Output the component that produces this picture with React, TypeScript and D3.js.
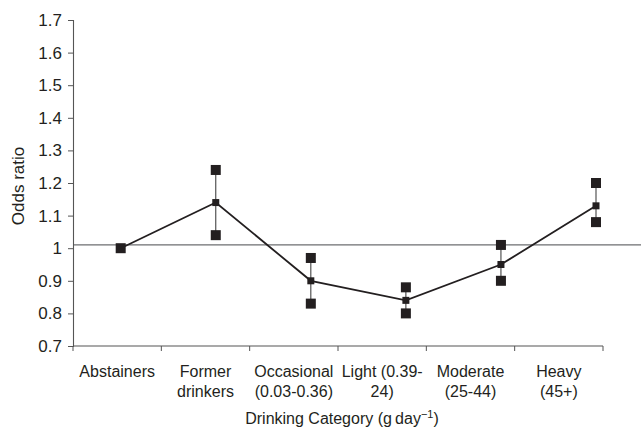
import React, { useEffect, useRef } from "react";
import * as d3 from "d3";

// categories and estimates
const categories = ["Abstainers", "Former", "Occasional", "Light", "Moderate", "Heavy"];
const labelLines = [
  ["Abstainers"],
  ["Former", "drinkers"],
  ["Occasional", "(0.03-0.36)"],
  ["Light (0.39-", "24)"],
  ["Moderate", "(25-44)"],
  ["Heavy", "(45+)"],
];
const oddsRatio = [1.0, 1.14, 0.9, 0.84, 0.95, 1.13];
const lowerCI = [null, 1.04, 0.83, 0.8, 0.9, 1.08];
const upperCI = [null, 1.24, 0.97, 0.88, 1.01, 1.2];
const yTicks = [0.7, 0.8, 0.9, 1, 1.1, 1.2, 1.3, 1.4, 1.5, 1.6, 1.7];
const referenceValue = 1.01;

const W = 643;
const H = 429;
const ink = "#231f20";

const App: React.FC = () => {
  const ref = useRef<SVGSVGElement>(null);

  useEffect(() => {
    if (!ref.current) return;
    const svg = d3.select(ref.current);
    svg.selectAll("*").remove();

    const font = "'Liberation Sans', Arial, sans-serif";
    const left = 73;
    const axisRight = 603;
    const top = 20;
    const bottom = 346;

    const y = d3.scaleLinear().domain([0.7, 1.7]).range([bottom, top]);
    // category axis (labels and ticks)
    const xBand = d3.scaleBand().domain(categories).range([left, axisRight]);
    // the plotted series sits on its own, wider spaced axis
    const xPoint = d3.scalePoint().domain(categories).range([120.7, 596]);

    // reference line
    svg.append("line")
      .attr("x1", left).attr("x2", 641)
      .attr("y1", y(referenceValue)).attr("y2", y(referenceValue))
      .attr("stroke", "#6d6e70").attr("stroke-width", 1.2);

    // y axis
    const yAxis = svg.append("g")
      .attr("transform", `translate(${left},0)`)
      .call(d3.axisLeft(y).tickValues(yTicks).tickSize(5).tickPadding(6)
        .tickFormat((d) => d3.format("")(+d)));
    yAxis.select(".domain").attr("stroke", "#555").attr("stroke-width", 1.1);
    yAxis.selectAll(".tick line").attr("stroke", "#555");
    yAxis.selectAll("text")
      .attr("font-family", font).attr("font-size", 17).attr("fill", ink);

    // x axis
    const xAxis = svg.append("g")
      .attr("transform", `translate(0,${bottom})`);
    xAxis.append("line")
      .attr("x1", left).attr("x2", axisRight)
      .attr("stroke", "#555").attr("stroke-width", 1.1);
    const tickXs = [left, ...categories.map((c) => (xBand(c) as number) + xBand.bandwidth())];
    xAxis.selectAll(".xt")
      .data(tickXs)
      .enter()
      .append("line")
      .attr("class", "xt")
      .attr("x1", (d) => d).attr("x2", (d) => d)
      .attr("y1", 0).attr("y2", 5)
      .attr("stroke", "#555");

    const labels = svg.append("g");
    categories.forEach((c, i) => {
      const t = labels.append("text")
        .attr("x", (xBand(c) as number) + xBand.bandwidth() / 2)
        .attr("y", 377)
        .attr("text-anchor", "middle")
        .attr("font-family", font).attr("font-size", 16).attr("fill", ink);
      labelLines[i].forEach((line, j) => {
        t.append("tspan")
          .attr("x", (xBand(c) as number) + xBand.bandwidth() / 2)
          .attr("dy", j === 0 ? 0 : 20)
          .text(line);
      });
    });

    // axis titles
    const xt = svg.append("text")
      .attr("x", 342).attr("y", 424)
      .attr("text-anchor", "middle")
      .attr("font-family", font).attr("font-size", 16).attr("fill", ink);
    xt.append("tspan").text("Drinking Category (g\u2009day");
    xt.append("tspan").attr("dy", -6).attr("font-size", 11).text("\u22121");
    xt.append("tspan").attr("dy", 6).text(")");

    svg.append("text")
      .attr("transform", `translate(24,${(top + bottom) / 2 + 3}) rotate(-90)`)
      .attr("text-anchor", "middle")
      .attr("font-family", font).attr("font-size", 17).attr("fill", ink)
      .text("Odds ratio");

    // confidence intervals
    const ci = categories
      .map((c, i) => ({ c, lo: lowerCI[i], hi: upperCI[i] }))
      .filter((d) => d.lo !== null && d.hi !== null) as { c: string; lo: number; hi: number }[];

    svg.selectAll(".ci")
      .data(ci)
      .enter()
      .append("line")
      .attr("class", "ci")
      .attr("x1", (d) => xPoint(d.c) as number).attr("x2", (d) => xPoint(d.c) as number)
      .attr("y1", (d) => y(d.lo)).attr("y2", (d) => y(d.hi))
      .attr("stroke", "#444").attr("stroke-width", 1.1);

    // estimate line
    const line = d3.line<number>()
      .x((_, i) => xPoint(categories[i]) as number)
      .y((d) => y(d));
    svg.append("path")
      .attr("d", line(oddsRatio))
      .attr("fill", "none")
      .attr("stroke", ink)
      .attr("stroke-width", 1.8);

    const big = 10;
    const small = 7;
    // CI end markers
    const ends = ci.flatMap((d) => [{ c: d.c, v: d.lo }, { c: d.c, v: d.hi }]);
    svg.selectAll(".end")
      .data(ends)
      .enter()
      .append("rect")
      .attr("class", "end")
      .attr("x", (d) => (xPoint(d.c) as number) - big / 2)
      .attr("y", (d) => y(d.v) - big / 2)
      .attr("width", big).attr("height", big)
      .attr("fill", ink);

    // estimate markers (reference category drawn large)
    svg.selectAll(".est")
      .data(oddsRatio)
      .enter()
      .append("rect")
      .attr("class", "est")
      .attr("x", (d, i) => (xPoint(categories[i]) as number) - (i === 0 ? big : small) / 2)
      .attr("y", (d, i) => y(d) - (i === 0 ? big : small) / 2)
      .attr("width", (d, i) => (i === 0 ? big : small))
      .attr("height", (d, i) => (i === 0 ? big : small))
      .attr("fill", ink);
  }, []);

  return (
    <div style={{ position: "fixed", left: 0, top: 0, background: "#fff" }}>
      <svg ref={ref} width={W} height={H} style={{ display: "block" }} />
    </div>
  );
};

export default App;
